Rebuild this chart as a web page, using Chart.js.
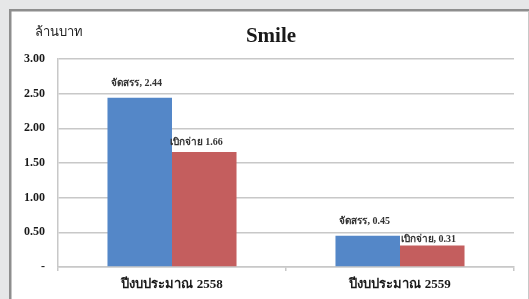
<!DOCTYPE html>
<html><head><meta charset="utf-8">
<script src="https://cdn.jsdelivr.net/npm/chart.js@4"></script>
<style>html,body{margin:0;padding:0;background:#e6e7e8;}#wrap{width:529px;height:299px;position:relative;}</style>
</head><body><div id="wrap"><canvas id="c" width="529" height="299"></canvas></div>
<script>
const categories = ['ปีงบประมาณ 2558', 'ปีงบประมาณ 2559'];
const seriesNames = ['จัดสรร', 'เบิกจ่าย'];
const allocated = [2.44, 0.45];
const spent = [1.66, 0.31];
const dataLabels = [['จัดสรร, 2.44', 'จัดสรร, 0.45'], ['เบิกจ่าย 1.66', 'เบิกจ่าย, 0.31']];
const yTicks = [0, 0.5, 1, 1.5, 2, 2.5, 3];

const SERIF = '"Liberation Serif","Times New Roman",serif';

const framePlugin = {
  id: 'frame',
  beforeDraw(chart) {
    const ctx = chart.ctx;
    ctx.save();
    ctx.fillStyle = '#e6e7e8';
    ctx.fillRect(0, 0, 529, 299);
    ctx.fillStyle = '#ffffff';
    ctx.fillRect(10, 10, 518, 289);
    ctx.fillStyle = '#8e8e8e';
    ctx.fillRect(9, 9, 520, 2.5);
    ctx.fillRect(9, 9, 2.5, 290);
    ctx.fillStyle = '#c8c8c8';
    ctx.fillRect(528, 11, 1, 288);
    ctx.restore();
  },
  afterDraw(chart) {
    const ctx = chart.ctx;
    ctx.save();
    ctx.fillStyle = '#1a1a1a';
    ctx.textAlign = 'center';
    ctx.textBaseline = 'middle';
    ctx.font = 'bold 21px ' + SERIF;
    ctx.fillText('Smile', 271, 37);
    ctx.font = '13px ' + SERIF;
    ctx.textAlign = 'left';
    ctx.fillStyle = '#222';
    ctx.fillText('ล้านบาท', 35, 33);
    // data labels
    ctx.font = 'bold 10px ' + SERIF;
    ctx.fillStyle = '#333';
    ctx.textAlign = 'center';
    chart.data.datasets.forEach((ds, di) => {
      const meta = chart.getDatasetMeta(di);
      meta.data.forEach((bar, i) => {
        const txt = dataLabels[di][i];
        if (di === 0) {
          ctx.fillText(txt, bar.x - 3, bar.y - 14);
        } else if (i === 0) {
          ctx.fillText(txt, bar.x - 8, bar.y - 9);
        } else {
          ctx.fillText(txt, bar.x - 4, bar.y - 6);
        }
      });
    });
    ctx.restore();
  }
};

new Chart(document.getElementById('c'), {
  type: 'bar',
  data: {
    labels: categories,
    datasets: [
      { label: seriesNames[0], data: allocated, backgroundColor: '#5487c8', categoryPercentage: 0.566, barPercentage: 1.0 },
      { label: seriesNames[1], data: spent, backgroundColor: '#c45e5e', categoryPercentage: 0.566, barPercentage: 1.0 }
    ]
  },
  options: {
    responsive: false,
    animation: false,
    layout: { padding: { left: 0, right: 15, top: 59, bottom: 0 } },
    plugins: { legend: { display: false }, title: { display: false }, tooltip: { enabled: false } },
    scales: {
      x: {
        grid: { display: true, drawOnChartArea: false, offset: true, color: '#c8c8c8', lineWidth: 1.5, tickLength: 4 },
        border: { color: '#c8c8c8', width: 1.5 },
        ticks: { color: '#1a1a1a', font: { family: SERIF, size: 13, weight: 'bold' }, padding: 6 },
        afterFit(s) { s.height = 32; }
      },
      y: {
        min: 0, max: 3,
        afterBuildTicks(s) { s.ticks = yTicks.map(v => ({ value: v })); },
        grid: { color: '#c8c8c8', lineWidth: 1.5, drawTicks: false },
        border: { color: '#c8c8c8', width: 1.5 },
        ticks: {
          color: '#1a1a1a', padding: 13,
          font: { family: SERIF, size: 12, weight: 'bold' },
          callback: v => v === 0 ? '-' : v.toFixed(2)
        },
        afterFit(s) { s.width = 58; }
      }
    }
  },
  plugins: [framePlugin]
});
</script></body></html>
